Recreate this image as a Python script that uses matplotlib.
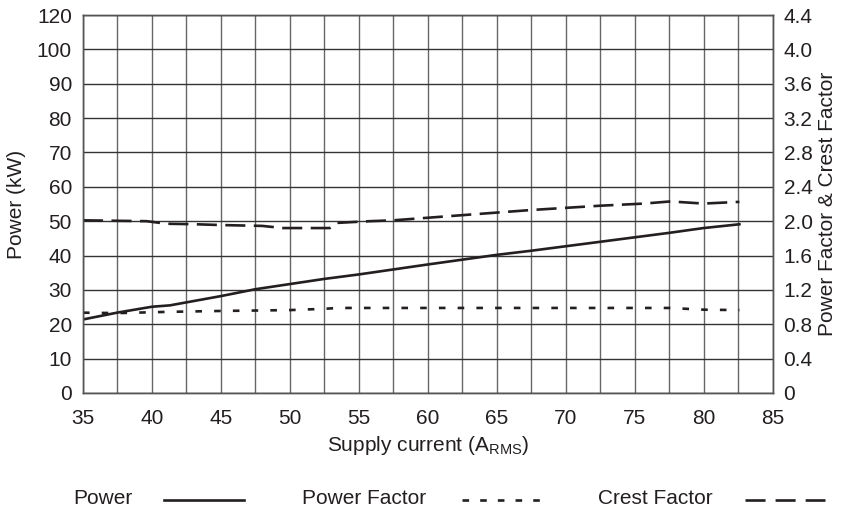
import matplotlib
matplotlib.use("Agg")
import matplotlib.pyplot as plt
from matplotlib.lines import Line2D
import numpy as np

plt.rcParams['font.family'] = ['Liberation Sans', 'DejaVu Sans']

# Data
power_x = [35, 37.5, 40, 41.3, 45, 47.5, 50, 52.5, 55, 60, 65, 67.5, 70, 75, 77.5, 80, 82.6]
power_kw = [21.4, 23.4, 25.1, 25.5, 28.2, 30.2, 31.7, 33.2, 34.5, 37.4, 40.2, 41.4, 42.7, 45.3, 46.6, 48.0, 49.1]

pf_x = [35, 37.5, 40, 41.3, 45, 50, 52.5, 53.5, 55, 60, 65, 70, 75, 77.5, 80, 82.6]
pf_val = [0.935, 0.93, 0.94, 0.945, 0.955, 0.965, 0.98, 0.99, 0.99, 0.99, 0.99, 0.99, 0.99, 0.99, 0.97, 0.965]

cf_x = [35, 39.6, 41.1, 43, 45, 48, 49.5, 52.9, 53.4, 55.8, 57.5, 65, 67.5, 72.5, 75.7, 77.6, 80.0, 82.6]
cf_val = [2.01, 2.0, 1.97, 1.965, 1.955, 1.945, 1.92, 1.92, 1.98, 2.0, 2.01, 2.10, 2.13, 2.18, 2.205, 2.23, 2.205, 2.225]

x_ticks = [35, 40, 45, 50, 55, 60, 65, 70, 75, 80, 85]
left_tick_labels = ['0', '10', '20', '30', '40', '50', '60', '70', '80', '90', '100', '120']
right_tick_labels = ['0', '0.4', '0.8', '1.2', '1.6', '2.0', '2.4', '2.8', '3.2', '3.6', '4.0', '4.4']
series_names = ['Power', 'Power Factor', 'Crest Factor']

col = '#231f20'
W, H = 842, 509
fs = 15
lw = 1.9
fig = plt.figure(figsize=(W / 100, H / 100), dpi=100)
ax = fig.add_axes([83 / W, 1 - 393 / H, (772.5 - 83) / W, (393 - 15) / H])
ax2 = ax.twinx()

ax.set_xlim(35, 85)
ax.set_ylim(0, 110)
ax2.set_ylim(0, 4.4)

ax.set_xticks(x_ticks)
ax.set_xticks(np.arange(35, 85.01, 2.5), minor=True)
ax.set_yticks(np.arange(0, 111, 10))
ax.set_yticklabels(left_tick_labels)
ax2.set_yticks(np.arange(0, 4.41, 0.4))
ax2.set_yticklabels(right_tick_labels)

ax.grid(True, which='both', axis='x', color='#666666', lw=1.0)
ax.grid(True, which='major', axis='y', color='#333333', lw=1.0)
ax.set_axisbelow(True)
for a in (ax, ax2):
    a.tick_params(which='both', length=0, labelsize=fs, colors=col, pad=8)
    for s in a.spines.values():
        s.set_color('#555555')
        s.set_linewidth(1.0)
ax.tick_params(axis='x', pad=11.5)

dot_style = (0, (2.5, 4.6))
dash_style = (0, (7.6, 3.2))
ax.plot(power_x, power_kw, color=col, lw=lw, solid_joinstyle='round')
ax2.plot(pf_x, pf_val, color=col, lw=lw, linestyle=dot_style)
ax2.plot(cf_x, cf_val, color=col, lw=lw, linestyle=dash_style)

ax.set_xlabel('Supply current (A$_{\\mathregular{RMS}}$)', fontsize=fs, color=col, labelpad=4)
ax.set_ylabel('Power (kW)', fontsize=fs, color=col, labelpad=8)
ax2.set_ylabel('Power Factor & Crest Factor', fontsize=fs, color=col, labelpad=4)

# Legend row (label then line sample)
ly = 1 - 499 / H
text_x = [73, 302, 598]
line_x = [(164, 244), (462, 540), (745, 825)]
styles = ['-', (0, (2.5, 4.2)), (0, (7.6, 3.8))]
for name, tx, (x0, x1), st in zip(series_names, text_x, line_x, styles):
    fig.text(tx / W, ly, name, fontsize=fs, color=col, ha='left', va='center')
    fig.add_artist(Line2D([x0 / W, x1 / W], [1 - 500 / H, 1 - 500 / H],
                          transform=fig.transFigure, color=col, lw=lw, linestyle=st))

fig.savefig('out.png', dpi=100)
